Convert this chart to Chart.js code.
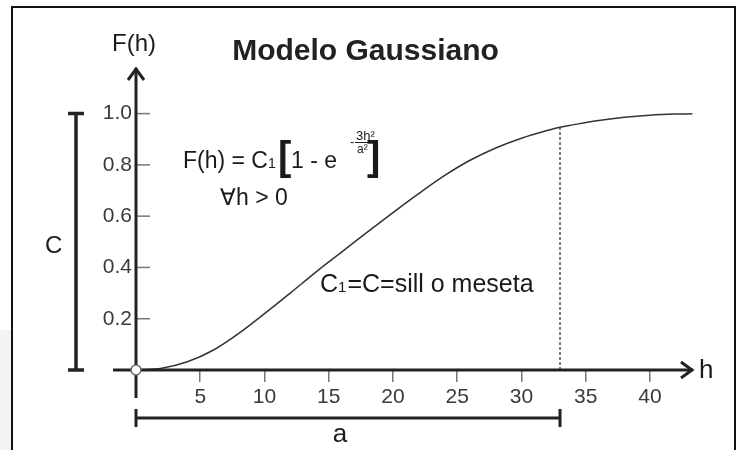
<!DOCTYPE html>
<html>
<head>
<meta charset="utf-8">
<title>Modelo Gaussiano</title>
<script src="https://cdn.jsdelivr.net/npm/chart.js@4/dist/chart.umd.min.js"></script>
<style>
  html, body { margin: 0; padding: 0; background: #fff; }
  #wrap { position: relative; width: 738px; height: 450px; }
</style>
</head>
<body>
<div id="wrap"><canvas id="gaussChart"></canvas></div>
<script>
// distancia h y valor del variograma F(h)
var hValues = [0, 2, 4, 6, 8, 10, 12, 14, 16, 18, 20, 22, 24, 26, 28, 30, 32, 33, 34, 36, 38, 40, 42, 43.3];
var fValues = [0, 0.007, 0.032, 0.077, 0.143, 0.220, 0.300, 0.382, 0.460, 0.538, 0.614, 0.688, 0.758, 0.818, 0.866, 0.904, 0.934, 0.947, 0.956, 0.973, 0.986, 0.994, 0.998, 0.999];
var xTicks = [5, 10, 15, 20, 25, 30, 35, 40];
var yTicks = [0.2, 0.4, 0.6, 0.8, 1.0];
var rangeA = 33;      // alcance a
var sillC = 1.0;      // meseta C

var curve = [];
hValues.forEach(function (h, i) {
    curve.push({ x: h, y: fValues[i] });
});

var textFont = 'Liberation Sans, Arial, Helvetica, sans-serif';
Chart.defaults.font.family = textFont;

// ejes con flechas, corchetes C y a, ecuacion y etiquetas
var sketchPlugin = {
    id: 'sketch',
    beforeDraw: function (chart) {
        var ctx = chart.ctx;
        ctx.save();
        ctx.fillStyle = '#fff';
        ctx.fillRect(0, 0, chart.width, chart.height);
        ctx.fillStyle = '#f3f3f3';
        ctx.fillRect(0, 330, 11, 120);
        ctx.strokeStyle = '#111';
        ctx.lineWidth = 2;
        ctx.strokeRect(12, 7, 723, 460);
        ctx.restore();
    },
    afterDatasetsDraw: function (chart) {
        var ctx = chart.ctx;
        var xs = chart.scales.x, ys = chart.scales.y;
        var x0 = xs.getPixelForValue(0), y0 = ys.getPixelForValue(0);
        var area = chart.chartArea;
        var top = area.top - 2;
        ctx.save();

        // marcas del eje y, hacia dentro
        ctx.strokeStyle = '#777';
        ctx.lineWidth = 1.5;
        yTicks.forEach(function (v) {
            var py = ys.getPixelForValue(v);
            ctx.beginPath();
            ctx.moveTo(x0 + 1, py);
            ctx.lineTo(x0 + 14, py);
            ctx.stroke();
        });

        ctx.strokeStyle = '#222';
        ctx.lineWidth = 3;
        ctx.lineCap = 'butt';
        // eje y
        ctx.beginPath();
        ctx.moveTo(x0, y0 + 28);
        ctx.lineTo(x0, top);
        ctx.stroke();
        ctx.beginPath();
        ctx.moveTo(x0 - 8, top + 12);
        ctx.lineTo(x0, top + 1);
        ctx.lineTo(x0 + 8, top + 12);
        ctx.stroke();
        // eje x
        ctx.beginPath();
        ctx.moveTo(x0 - 23, y0);
        ctx.lineTo(area.right, y0);
        ctx.stroke();
        ctx.beginPath();
        ctx.moveTo(area.right - 12, y0 - 8);
        ctx.lineTo(area.right - 1, y0);
        ctx.lineTo(area.right - 12, y0 + 8);
        ctx.stroke();

        // origen
        ctx.lineWidth = 1.5;
        ctx.strokeStyle = '#666';
        ctx.fillStyle = '#fff';
        ctx.beginPath();
        ctx.arc(x0, y0, 5, 0, Math.PI * 2);
        ctx.fill();
        ctx.stroke();

        // corchete C
        var cTop = ys.getPixelForValue(sillC);
        ctx.strokeStyle = '#222';
        ctx.lineWidth = 3.5;
        ctx.beginPath();
        ctx.moveTo(76, cTop);
        ctx.lineTo(76, y0);
        ctx.moveTo(68, cTop);
        ctx.lineTo(84, cTop);
        ctx.moveTo(68, y0);
        ctx.lineTo(84, y0);
        ctx.stroke();

        // corchete a
        var aRight = xs.getPixelForValue(rangeA);
        ctx.lineWidth = 3;
        ctx.beginPath();
        ctx.moveTo(x0, 418);
        ctx.lineTo(aRight, 418);
        ctx.moveTo(x0, 409);
        ctx.lineTo(x0, 427);
        ctx.moveTo(aRight, 409);
        ctx.lineTo(aRight, 427);
        ctx.stroke();

        // textos
        ctx.fillStyle = '#1a1a1a';
        ctx.textBaseline = 'alphabetic';
        ctx.textAlign = 'left';
        ctx.font = '24px ' + textFont;
        ctx.fillText('F(h)', 112, 51);
        ctx.fillText('C', 45, 253);
        ctx.font = '26px ' + textFont;
        ctx.fillText('h', 699, 378);
        ctx.textAlign = 'center';
        ctx.fillText('a', 340, 442);
        ctx.textAlign = 'left';

        // F(h) = C1 [1 - e^(-3h2/a2)]
        ctx.font = '23px ' + textFont;
        ctx.fillText('F(h) = C', 183, 168);
        ctx.font = '14px ' + textFont;
        ctx.fillText('1', 268, 168);
        ctx.font = 'bold 40px ' + textFont;
        ctx.fillText('[', 278, 170);
        ctx.font = '23px ' + textFont;
        ctx.fillText('1 - e', 291, 168);
        ctx.font = '13px ' + textFont;
        ctx.fillText('-', 350, 146);
        ctx.fillText('3h²', 356, 140);
        ctx.font = '12px ' + textFont;
        ctx.fillText('a²', 357, 153);
        ctx.lineWidth = 1;
        ctx.beginPath();
        ctx.moveTo(355, 142.5);
        ctx.lineTo(372, 142.5);
        ctx.stroke();
        ctx.font = 'bold 40px ' + textFont;
        ctx.fillText(']', 367, 170);
        ctx.font = '23px ' + textFont;
        ctx.fillText('\u2200h > 0', 220, 205);

        // C1=C=sill o meseta
        ctx.font = '25px ' + textFont;
        ctx.fillText('C', 320, 292);
        var w = ctx.measureText('C').width;
        ctx.font = '15px ' + textFont;
        ctx.fillText('1', 320 + w, 292);
        var w1 = ctx.measureText('1').width;
        ctx.font = '25px ' + textFont;
        ctx.fillText('=C=sill o meseta', 320 + w + w1 + 1, 292);

        ctx.restore();
    }
};

var ctx = document.getElementById('gaussChart').getContext('2d');
var gaussChart = new Chart(ctx, {
    type: 'line',
    data: {
        datasets: [
            {
                label: 'F(h)',
                data: curve,
                borderColor: '#333',
                borderWidth: 1.5,
                pointRadius: 0,
                fill: false,
                cubicInterpolationMode: 'monotone'
            },
            {
                label: 'a',
                data: [{ x: rangeA, y: 0 }, { x: rangeA, y: fValues[hValues.indexOf(rangeA)] }],
                borderColor: '#555',
                borderWidth: 1.5,
                borderDash: [3, 2],
                pointRadius: 0,
                fill: false
            }
        ]
    },
    options: {
        responsive: true,
        maintainAspectRatio: false,
        animation: false,
        layout: { padding: { left: 38, right: 45, top: 0, bottom: 0 } },
        plugins: {
            legend: { display: false },
            tooltip: { enabled: false },
            title: {
                display: true,
                text: 'Modelo Gaussiano',
                color: '#222',
                font: { size: 30, weight: 'bold' },
                padding: { top: 34, bottom: 0 }
            }
        },
        scales: {
            x: {
                type: 'linear',
                min: 0,
                max: 43.35,
                afterFit: function (scale) { scale.height = 80; },
                border: { display: false },
                grid: {
                    drawOnChartArea: false,
                    drawTicks: true,
                    tickLength: 12,
                    lineWidth: 1.5,
                    color: function (c) {
                        return xTicks.indexOf(c.tick.value) >= 0 ? '#777' : 'rgba(0,0,0,0)';
                    }
                },
                ticks: {
                    stepSize: 5,
                    includeBounds: false,
                    padding: 3,
                    color: '#3a3a3a',
                    font: { size: 21 },
                    maxRotation: 0,
                    callback: function (v) {
                        return xTicks.indexOf(v) >= 0 ? String(v) : '';
                    }
                }
            },
            y: {
                min: 0,
                max: 1.17,
                afterFit: function (scale) { scale.width = 98; },
                border: { display: false },
                grid: { display: false, drawTicks: false },
                ticks: {
                    stepSize: 0.2,
                    includeBounds: false,
                    padding: 4,
                    color: '#3a3a3a',
                    font: { size: 21 },
                    callback: function (v) {
                        return (v > 0.01 && v < 1.01) ? v.toFixed(1) : '';
                    }
                }
            }
        }
    },
    plugins: [sketchPlugin]
});
</script>
</body>
</html>
